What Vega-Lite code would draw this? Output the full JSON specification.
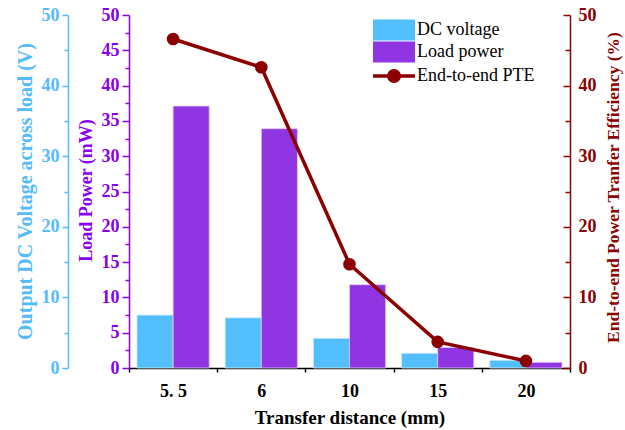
{
  "$schema": "https://vega.github.io/schema/vega-lite/v6.json",
  "width": 441,
  "height": 353,
  "autosize": "none",
  "padding": {"left": 129, "top": 15, "right": 55, "bottom": 62},
  "background": "white",
  "config": {
    "view": {"stroke": null},
    "font": "Liberation Serif",
    "axis": {"grid": false, "labelFont": "Liberation Serif", "titleFont": "Liberation Serif", "labelFontWeight": "bold", "titleFontWeight": "bold", "labelFontSize": 18, "titleFontSize": 18, "domainWidth": 1.5, "tickWidth": 1.5}
  },
  "data": {
    "values": [
      {"d": "5.5", "s": "DC voltage", "v": 7.5},
      {"d": "6", "s": "DC voltage", "v": 7.1},
      {"d": "10", "s": "DC voltage", "v": 4.2},
      {"d": "15", "s": "DC voltage", "v": 2.1},
      {"d": "20", "s": "DC voltage", "v": 1.1},
      {"d": "5.5", "s": "Load power", "v": 37.1},
      {"d": "6", "s": "Load power", "v": 33.9},
      {"d": "10", "s": "Load power", "v": 11.8},
      {"d": "15", "s": "Load power", "v": 2.9},
      {"d": "20", "s": "Load power", "v": 0.8},
      {"d": "5.5", "s": "End-to-end PTE", "v": 46.6},
      {"d": "6", "s": "End-to-end PTE", "v": 42.6},
      {"d": "10", "s": "End-to-end PTE", "v": 14.7},
      {"d": "15", "s": "End-to-end PTE", "v": 3.7},
      {"d": "20", "s": "End-to-end PTE", "v": 1.0}
    ]
  },
  "encoding": {
    "x": {
      "field": "d", "type": "ordinal", "sort": null,
      "scale": {"paddingInner": 0, "paddingOuter": 0},
      "axis": {
        "title": "Transfer distance (mm)",
        "labelExpr": "datum.value === '5.5' ? '5. 5' : datum.label",
        "labelAngle": 0, "labelFontSize": 18, "labelPadding": 10, "labelColor": "black",
        "tickBand": "extent", "tickSize": 4, "tickColor": "black", "domainColor": "black",
        "titleFontSize": 19, "titleColor": "black", "titlePadding": 8
      }
    },
    "color": {
      "field": "s", "type": "nominal",
      "scale": {"domain": ["DC voltage", "Load power", "End-to-end PTE"], "range": ["#52BEFC", "#9035E2", "#8B0000"]},
      "legend": {
        "orient": "none", "legendX": 256, "legendY": 6, "title": null, "padding": 0,
        "labelFont": "Liberation Serif", "labelFontSize": 18, "labelColor": "black", "labelFontWeight": "normal",
        "symbolSize": 441, "labelOffset": 14, "rowPadding": 0,
        "encode": {
          "symbols": {
            "update": {
              "shape": {"signal": "datum.value === 'End-to-end PTE' ? 'M-2,0H2M-0.5,0A0.5,0.5 0 1 1 0.5,0A0.5,0.5 0 1 1 -0.5,0' : 'M-2,-1H2V1H-2Z'"},
              "fill": {"scale": "color", "field": "value"},
              "stroke": {"scale": "color", "field": "value"},
              "strokeWidth": {"signal": "datum.value === 'End-to-end PTE' ? 3.5 : 0"},
              "opacity": {"value": 1},
              "fillOpacity": {"value": 1},
              "strokeOpacity": {"value": 1}
            }
          }
        }
      }
    }
  },
  "layer": [
    {
      "transform": [{"filter": "datum.s === 'DC voltage'"}],
      "mark": {"type": "bar", "stroke": "#d8ecff", "strokeWidth": 0.8},
      "encoding": {
        "xOffset": {"field": "s", "scale": {"domain": ["DC voltage", "Load power"], "paddingInner": 0, "paddingOuter": 0.22}},
        "y": {
          "field": "v", "type": "quantitative",
          "scale": {"domain": [0, 50], "nice": false},
          "axis": {
            "orient": "left", "offset": 61,
            "values": [0, 5, 10, 15, 20, 25, 30, 35, 40, 45, 50],
            "labelExpr": "datum.value % 10 === 0 ? datum.label : ''",
            "tickSize": {"condition": {"test": "datum.value % 10 === 0", "value": 6}, "value": 4},
            "labelPadding": 3,
            "domainColor": "#55BBFF", "tickColor": "#55BBFF", "labelColor": "#55BBFF", "titleColor": "#55BBFF",
            "title": "Output DC Voltage across load (V)",
            "titleFontSize": 20, "titleAngle": -90, "titleAlign": "center", "titleBaseline": "middle",
            "titleX": -43, "titleY": 176
          }
        }
      }
    },
    {
      "transform": [{"filter": "datum.s === 'Load power'"}],
      "mark": {"type": "bar", "stroke": "#e6ccff", "strokeWidth": 0.8},
      "encoding": {
        "xOffset": {"field": "s", "scale": {"domain": ["DC voltage", "Load power"], "paddingInner": 0, "paddingOuter": 0.22}},
        "y": {
          "field": "v", "type": "quantitative",
          "scale": {"domain": [0, 50], "nice": false},
          "axis": {
            "orient": "left", "offset": 0,
            "values": [0, 2.5, 5, 7.5, 10, 12.5, 15, 17.5, 20, 22.5, 25, 27.5, 30, 32.5, 35, 37.5, 40, 42.5, 45, 47.5, 50],
            "labelExpr": "datum.value % 5 === 0 ? datum.label : ''",
            "tickSize": {"condition": {"test": "datum.value % 5 === 0", "value": 7}, "value": 4},
            "labelPadding": 3,
            "domainColor": "#8A00EE", "tickColor": "#8A00EE", "labelColor": "#8A00EE", "titleColor": "#8A00EE",
            "title": "Load Power (mW)",
            "titleFontSize": 18, "titleAngle": -90, "titleAlign": "center", "titleBaseline": "middle",
            "titleX": -43, "titleY": 175
          }
        }
      }
    },
    {
      "transform": [{"filter": "datum.s === 'End-to-end PTE'"}],
      "mark": {"type": "line", "strokeWidth": 3.5, "point": {"filled": true, "size": 160, "opacity": 1}},
      "encoding": {
        "y": {
          "field": "v", "type": "quantitative",
          "scale": {"domain": [0, 50], "nice": false},
          "axis": {
            "orient": "right",
            "values": [0, 5, 10, 15, 20, 25, 30, 35, 40, 45, 50],
            "labelExpr": "datum.value % 10 === 0 ? datum.label : ''",
            "tickSize": {"condition": {"test": "datum.value % 10 === 0", "value": -7}, "value": -5},
            "labelPadding": 15,
            "domainColor": "#8B0000", "tickColor": "#8B0000", "labelColor": "#8B0000", "titleColor": "#8B0000",
            "title": "End-to-end Power Tranfer Efficiency (%)",
            "titleFontSize": 17.5, "titleAngle": -90, "titleAlign": "center", "titleBaseline": "middle",
            "titleX": 43, "titleY": 172
          }
        }
      }
    }
  ],
  "resolve": {"scale": {"y": "independent"}, "axis": {"y": "independent"}}
}
